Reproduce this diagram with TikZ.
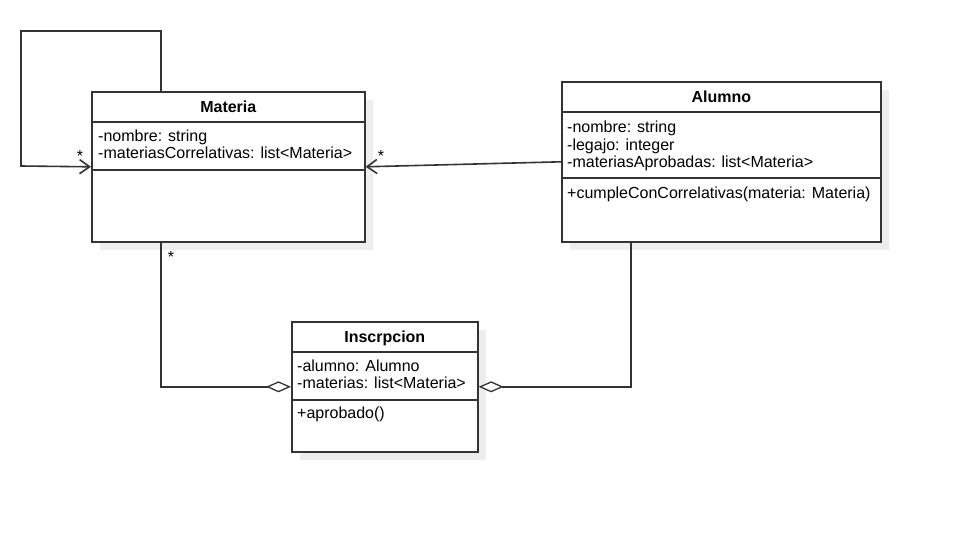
\documentclass[tikz,border=0pt]{standalone}
\usepackage{fontspec}
\setmainfont{Liberation Sans}
\usetikzlibrary{arrows.meta,shadows}

\begin{document}
\begin{tikzpicture}[x=1pt, y=-1pt, >={Straight Barb[length=10pt,width=14pt]}]
      \tikzset{
  classbox/.style={
    rectangle,
    draw=black!80,
    line width=1.6pt,
    fill=white,
    anchor=north west,
    inner sep=0pt,
    drop shadow={shadow xshift=8pt, shadow yshift=-8pt, fill=black!7, opacity=1}
  },
  classname/.style={
    anchor=base,
    inner sep=0pt,
    font=\fontsize{16}{18}\selectfont\bfseries
  },
  member/.style={
    anchor=base west,
    inner sep=0pt,
    font=\fontsize{16}{18}\selectfont
  },
  separator/.style={
    draw=black!80,
    line width=1.6pt
  },
  assoc/.style={
    draw=black!80,
    line width=1.6pt
  },
  aggr/.style={
    assoc,
    {Diamond[fill=white,length=25pt,width=11pt,line width=1.3pt]}-
  }
}

\useasboundingbox (0,0) rectangle (970,541);

% class boxes
\node [classbox, minimum width=273pt, minimum height=150pt] (materia) at (91,91) {};
\node [classbox, minimum width=319pt, minimum height=160pt] (alumno) at (561,81) {};
\node [classbox, minimum width=186pt, minimum height=130pt] (inscripcion) at (291,321) {};

\node [classname] (materia-name) at ([yshift=-21pt]materia.north) {Materia};
\node [classname] (alumno-name) at ([yshift=-21pt]alumno.north) {Alumno};
\node [classname] (inscripcion-name) at ([yshift=-21pt]inscripcion.north) {Inscrpcion};

\foreach \c/\s in {materia/79, alumno/97, inscripcion/79} {
  \draw [separator] ([yshift=-31pt]\c.north west) -- ([yshift=-31pt]\c.north east);
  \draw [separator] ([yshift=-\s pt]\c.north west) -- ([yshift=-\s pt]\c.north east);
}

% attributes
\foreach \t [count=\i] in {-nombre: string, -materiasCorrelativas: list<Materia>}
  \node [member] (materia-attr-\i) at ([xshift=7pt, yshift={-32.5pt-17.5pt*\i}]materia.north west) {\t};

\foreach \t [count=\i] in {-nombre: string, -legajo: integer, -materiasAprobadas: list<Materia>}
  \node [member] (alumno-attr-\i) at ([xshift=6pt, yshift={-34pt-17.5pt*\i}]alumno.north west) {\t};

\foreach \t [count=\i] in {-alumno: Alumno, -materias: list<Materia>}
  \node [member] (inscripcion-attr-\i) at ([xshift=6pt, yshift={-32.5pt-17.5pt*\i}]inscripcion.north west) {\t};

% methods
\node [member] (alumno-op-1) at ([xshift=6pt, yshift=-117pt]alumno.north west) {+cumpleConCorrelativas(materia: Materia)};
\node [member] (inscripcion-op-1) at ([xshift=6pt, yshift=-97.5pt]inscripcion.north west) {+aprobado()};

% connectors
\coordinate (loop-top) at (161,31);
\coordinate (loop-left) at (21,166);
\coordinate (alumno-foot) at (631,241);

\draw [assoc, ->] (materia.north -| loop-top) -- (loop-top) -| (loop-left) -- (materia.west);
\draw [assoc, ->] (alumno.west) -- (materia.east);
\draw [aggr] (inscripcion.west) -| (materia.south -| loop-top);
\draw [aggr] (inscripcion.east) -| (alumno.south -| alumno-foot);

% multiplicities
\node [member, anchor=base] (mult-loop) at (80,161) {*};
\node [member, anchor=base] (mult-alumno) at (381,161) {*};
\node [member, anchor=base] (mult-inscripcion) at (171,262) {*};
    \end{tikzpicture}
\end{document}
